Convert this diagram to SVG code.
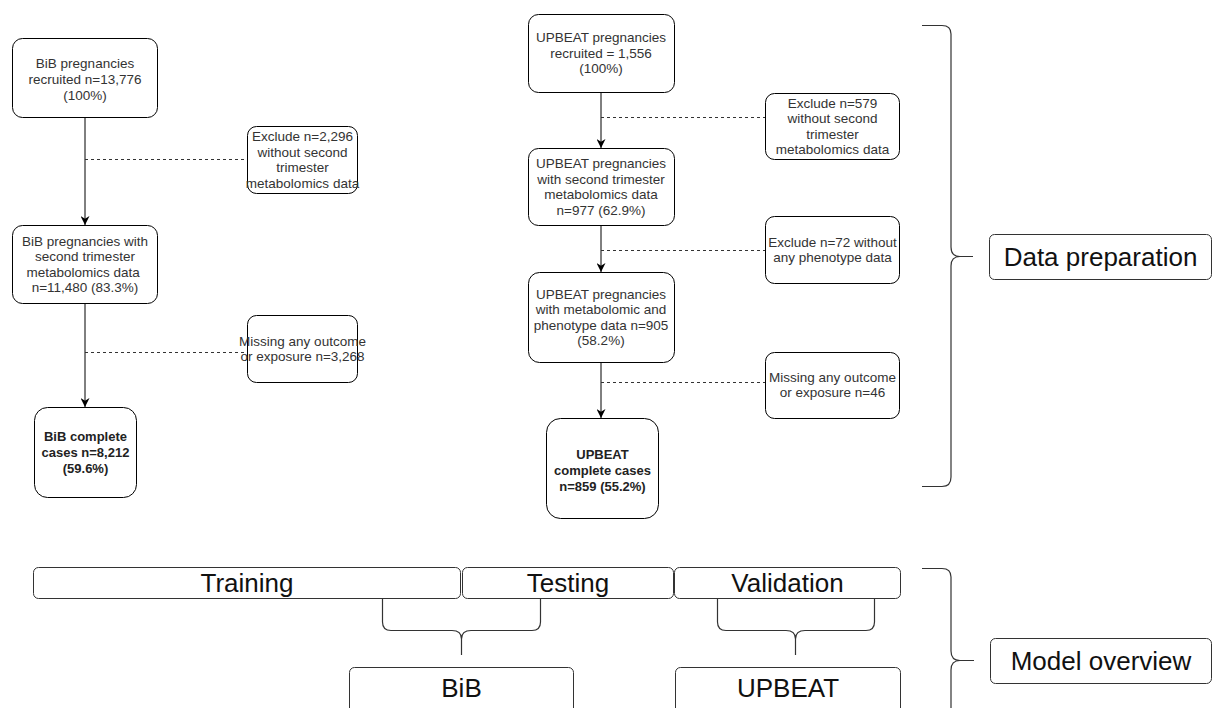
<svg xmlns="http://www.w3.org/2000/svg" width="1214" height="708" viewBox="0 0 1214 708">
<defs>
<style>
.box{fill:#fff;stroke:#000;stroke-width:1}
.lab{fill:#fff;stroke:#333;stroke-width:1}
.t{font-family:"Liberation Sans",Arial,sans-serif;font-size:13.5px;fill:#333;text-anchor:middle}
.b{font-weight:bold;font-size:13px;fill:#222}
.big{font-family:"Liberation Sans",Arial,sans-serif;font-size:26px;fill:#111;text-anchor:middle}
.solid{fill:none;stroke:#000;stroke-width:1}
.dash{fill:none;stroke:#333;stroke-width:1;stroke-dasharray:3,3}
.brace{fill:none;stroke:#333;stroke-width:1.2}
</style>
<marker id="arr" viewBox="0 0 10 10" refX="10" refY="5" markerWidth="9" markerHeight="9" markerUnits="userSpaceOnUse" orient="auto">
<path d="M0,0 L10,5 L0,10 L3,5 z" fill="#000"/>
</marker>
</defs>
<rect width="1214" height="708" fill="#fff"/>

<g id="connectors">
<line class="solid" x1="85" y1="117" x2="85" y2="225" marker-end="url(#arr)"/>
<line class="solid" x1="85" y1="303" x2="85" y2="407" marker-end="url(#arr)"/>
<line class="dash" x1="85" y1="159.5" x2="247" y2="159.5"/>
<line class="dash" x1="85" y1="352.5" x2="247" y2="352.5"/>
<line class="solid" x1="601" y1="92" x2="601" y2="148" marker-end="url(#arr)"/>
<line class="solid" x1="601" y1="225" x2="601" y2="272" marker-end="url(#arr)"/>
<line class="solid" x1="601" y1="362" x2="601" y2="418" marker-end="url(#arr)"/>
<line class="dash" x1="601" y1="117.5" x2="765" y2="117.5"/>
<line class="dash" x1="601" y1="250.5" x2="765" y2="250.5"/>
<line class="dash" x1="601" y1="382.5" x2="765" y2="382.5"/>
<path class="brace" d="M922 25.5 L942 25.5 Q951 25.5 951 34 L951 247 Q951 256.5 960 256.5 L973 256.5 M960 256.5 Q951 256.5 951 266 L951 477 Q951 486.5 942 486.5 L922 486.5"/>
<path class="brace" d="M922 568.5 L942 568.5 Q951 568.5 951 577 L951 651 Q951 660.5 960 660.5 L974 660.5 M960 660.5 Q951 660.5 951 670 L951 760"/>
<path class="brace" d="M382.5 599 L382.5 622 Q382.5 630.5 391 630.5 L452 630.5 Q461.5 630.5 461.5 639 L461.5 655 M540.5 599 L540.5 622 Q540.5 630.5 532 630.5 L471 630.5 Q461.5 630.5 461.5 639"/>
<path class="brace" d="M717.5 599 L717.5 622 Q717.5 630.5 726 630.5 L786 630.5 Q795.5 630.5 795.5 639 L795.5 655 M874.5 599 L874.5 622 Q874.5 630.5 866 630.5 L805 630.5 Q795.5 630.5 795.5 639"/>
</g>

<g id="bib-recruited">
<rect class="box" x="12.5" y="38.5" width="145" height="79" rx="10"/>
<text class="t" x="85" y="68"><tspan x="85">BiB pregnancies</tspan><tspan x="85" dy="16">recruited n=13,776</tspan><tspan x="85" dy="16">(100%)</tspan></text>
</g>
<g id="bib-exclude">
<rect class="box" x="247.5" y="126.5" width="110" height="67" rx="9"/>
<text class="t" x="302.5" y="141"><tspan x="302.5">Exclude n=2,296</tspan><tspan x="302.5" dy="15.5">without second</tspan><tspan x="302.5" dy="15.5">trimester</tspan><tspan x="302.5" dy="15.5">metabolomics data</tspan></text>
</g>
<g id="bib-second">
<rect class="box" x="12.5" y="225.5" width="145" height="78" rx="10"/>
<text class="t" x="85" y="245.5"><tspan x="85">BiB pregnancies with</tspan><tspan x="85" dy="15.5">second trimester</tspan><tspan x="85" dy="15.5">metabolomics data </tspan><tspan x="85" dy="15.5">n=11,480 (83.3%)</tspan></text>
</g>
<g id="bib-missing">
<rect class="box" x="247.5" y="315.5" width="110" height="67" rx="9"/>
<text class="t" x="302.5" y="345.5"><tspan x="302.5">Missing any outcome</tspan><tspan x="302.5" dy="15.5">or exposure n=3,268</tspan></text>
</g>
<g id="bib-complete">
<rect class="box" x="34.5" y="407.5" width="102" height="90" rx="13"/>
<text class="t b" x="85.5" y="441"><tspan x="85.5">BiB complete</tspan><tspan x="85.5" dy="16">cases n=8,212</tspan><tspan x="85.5" dy="16">(59.6%)</tspan></text>
</g>

<g id="upbeat-recruited">
<rect class="box" x="528.5" y="14.5" width="146" height="78" rx="10"/>
<text class="t" x="601" y="42"><tspan x="601">UPBEAT pregnancies</tspan><tspan x="601" dy="15.5">recruited = 1,556</tspan><tspan x="601" dy="15.5">(100%)</tspan></text>
</g>
<g id="upbeat-exclude1">
<rect class="box" x="765.5" y="93.5" width="134" height="66" rx="9"/>
<text class="t" x="832.5" y="107.5"><tspan x="832.5">Exclude n=579</tspan><tspan x="832.5" dy="15.5">without second</tspan><tspan x="832.5" dy="15.5">trimester</tspan><tspan x="832.5" dy="15.5">metabolomics data</tspan></text>
</g>
<g id="upbeat-second">
<rect class="box" x="528.5" y="148.5" width="146" height="77" rx="10"/>
<text class="t" x="601" y="168"><tspan x="601">UPBEAT pregnancies</tspan><tspan x="601" dy="15.5">with second trimester</tspan><tspan x="601" dy="15.5">metabolomics data</tspan><tspan x="601" dy="15.5">n=977 (62.9%)</tspan></text>
</g>
<g id="upbeat-exclude2">
<rect class="box" x="765.5" y="216.5" width="134" height="67" rx="9"/>
<text class="t" x="832.5" y="246.5"><tspan x="832.5">Exclude n=72 without</tspan><tspan x="832.5" dy="15.5">any phenotype data</tspan></text>
</g>
<g id="upbeat-pheno">
<rect class="box" x="528.5" y="272.5" width="146" height="90" rx="11"/>
<text class="t" x="601" y="298.5"><tspan x="601">UPBEAT pregnancies</tspan><tspan x="601" dy="15.5">with metabolomic and</tspan><tspan x="601" dy="15.5">phenotype data n=905</tspan><tspan x="601" dy="15.5">(58.2%)</tspan></text>
</g>
<g id="upbeat-missing">
<rect class="box" x="765.5" y="352.5" width="134" height="66" rx="9"/>
<text class="t" x="832.5" y="381.5"><tspan x="832.5">Missing any outcome</tspan><tspan x="832.5" dy="15.5">or exposure n=46</tspan></text>
</g>
<g id="upbeat-complete">
<rect class="box" x="546.5" y="418.5" width="112" height="100" rx="14"/>
<text class="t b" x="602.5" y="458.5"><tspan x="602.5">UPBEAT</tspan><tspan x="602.5" dy="16">complete cases</tspan><tspan x="602.5" dy="16">n=859 (55.2%)</tspan></text>
</g>

<g id="data-preparation">
<rect class="lab" x="989.5" y="234.5" width="222" height="45" rx="5"/>
<text class="big" x="1100.5" y="266">Data preparation</text>
</g>
<g id="training">
<rect class="lab" x="33.5" y="567.5" width="427" height="31" rx="5"/>
<text class="big" x="247" y="592">Training</text>
</g>
<g id="testing">
<rect class="lab" x="462.5" y="567.5" width="211" height="31" rx="5"/>
<text class="big" x="568" y="592">Testing</text>
</g>
<g id="validation">
<rect class="lab" x="674.5" y="567.5" width="226" height="31" rx="5"/>
<text class="big" x="787.5" y="592">Validation</text>
</g>
<g id="bib">
<rect class="lab" x="349.5" y="667.5" width="224" height="50" rx="5"/>
<text class="big" x="461.5" y="697">BiB</text>
</g>
<g id="upbeat">
<rect class="lab" x="675.5" y="667.5" width="225" height="50" rx="5"/>
<text class="big" x="788" y="697">UPBEAT</text>
</g>
<g id="model-overview">
<rect class="lab" x="990.5" y="638.5" width="221" height="45" rx="5"/>
<text class="big" x="1101" y="670">Model overview</text>
</g>
</svg>
